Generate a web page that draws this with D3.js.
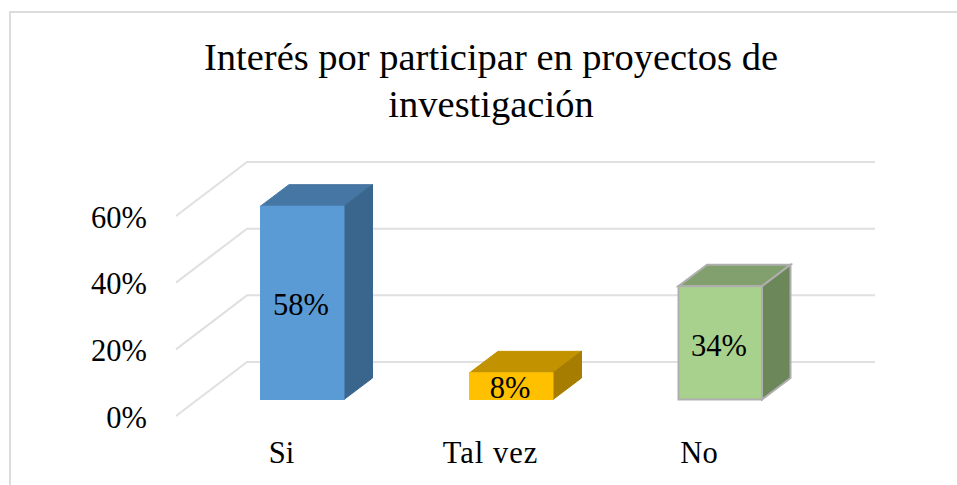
<!DOCTYPE html>
<html><head><meta charset="utf-8">
<style>html,body{margin:0;padding:0;background:#fff}svg{display:block}text{font-family:"Liberation Serif",serif;fill:#000}</style>
<script src="https://cdn.jsdelivr.net/npm/d3@7/dist/d3.min.js"></script></head>
<body><svg id="c" width="957" height="485"></svg>
<script>
const titleLines = ["Interés por participar en proyectos de", "investigación"];
const categories = ["Si", "Tal vez", "No"];
const values = [0.58, 0.08, 0.34];
const labels = ["58%", "8%", "34%"];
const yTicks = [0, 0.2, 0.4, 0.6];
const frontColors = ["#5b9bd5", "#ffc000", "#a9d18e"];
const topColors = ["#4676a3", "#c29200", "#81a06d"];
const sideColors = ["#3a658c", "#a67d00", "#6c8759"];
const strokeColors = ["#5b9bd5", "#ffc000", "#afafaf"];

const svg = d3.select("#c");
const x = d3.scaleBand().domain(categories).range([197.5, 824.5]).paddingInner(0.598).paddingOuter(0.299);
const y = d3.scaleLinear().domain([0, 0.6]).range([399.5, 199.5]);
const fontPx = 30.5;

svg.append("path").attr("d", "M10,485V12H957").attr("fill", "none").attr("stroke", "#dcdcdc").attr("stroke-width", 2);

svg.append("g").selectAll("text").data(titleLines).join("text")
  .attr("x", 491).attr("y", (d, i) => 70 + i * 47).attr("text-anchor", "middle")
  .attr("font-size", 38.5).text(d => d);

// floor/wall gridlines
const grid = svg.append("g").attr("fill", "none").attr("stroke", "#e0e0e0").attr("stroke-width", 2);
grid.selectAll("path").data(yTicks).join("path")
  .attr("d", d => `M176,${y(d) + 16.5}L247,${y(d) - 37.5}H875`);

// value axis
const yAxis = d3.axisLeft(y).tickValues(yTicks).tickFormat(d3.format(".0%")).tickSize(0).tickPadding(0);
const ag = svg.append("g").attr("transform", "translate(147,18)").call(yAxis);
ag.select(".domain").remove();
ag.selectAll("text").attr("font-size", fontPx).attr("font-family", "Liberation Serif").attr("dy", "0.32em");

// category axis
const xAxis = d3.axisBottom(x).tickSize(0).tickPadding(0);
const cg = svg.append("g").attr("transform", "translate(0,441.5)").call(xAxis);
cg.select(".domain").remove();
cg.selectAll("text").attr("font-size", fontPx).attr("font-family", "Liberation Serif").attr("dy", "0.71em")
  .attr("letter-spacing", (d, i) => [0, 1, 0][i]).attr("dx", (d, i) => [-20.5, -20.5, -21][i]);

// bars
const dx = 28.5, dy = 21.5;
const bars = svg.append("g").selectAll("g").data(categories).join("g");
bars.each(function (c, i) {
  const g = d3.select(this), l = x(c) + 0.5, r = x(c) + x.bandwidth(), t = y(values[i]), b = y(0);
  const sw = i === 2 ? 2 : 1;
  g.append("path").attr("d", `M${l},${t}L${l + dx},${t - dy}H${r + dx}L${r},${t}Z`)
    .attr("fill", topColors[i]).attr("stroke", i === 2 ? strokeColors[i] : topColors[i]).attr("stroke-width", sw);
  g.append("path").attr("d", `M${r},${t}L${r + dx},${t - dy}V${b - dy}L${r},${b}Z`)
    .attr("fill", sideColors[i]).attr("stroke", i === 2 ? strokeColors[i] : sideColors[i]).attr("stroke-width", sw);
  g.append("rect").attr("x", l).attr("y", t).attr("width", r - l).attr("height", b - t)
    .attr("fill", frontColors[i]).attr("stroke", strokeColors[i]).attr("stroke-width", sw);
  g.append("text").attr("x", x(c) + x.bandwidth() / 2 - 1).attr("y", (t + b) / 2 + [12.4, 12, 13][i])
    .attr("text-anchor", "middle").attr("font-size", fontPx).text(labels[i]);
});
</script></body></html>
